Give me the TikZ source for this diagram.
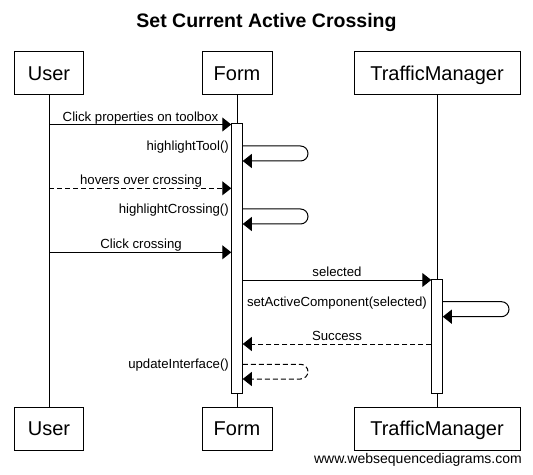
\documentclass[tikz,border=0pt]{standalone}
\usepackage{fontspec}
\setmainfont{Liberation Sans}
\usetikzlibrary{arrows.meta}
\begin{document}
\begin{tikzpicture}[x=1bp,y=-1bp,
  pbox/.style={draw, line width=1bp, minimum height=43bp, inner sep=0pt,
    text height=14.4bp, text depth=0bp, font=\fontsize{20bp}{24bp}\selectfont},
  actbar/.style={draw, fill=white, line width=1bp, minimum width=10.5bp, inner sep=0pt},
  life/.style={line width=1bp},
  msg/.style={line width=1bp, -{Triangle[length=9bp,width=14bp]}},
  ret/.style={msg, dash pattern=on 5bp off 3bp},
  selfmsg/.style={msg, rounded corners=7.5bp},
  lbl/.style={inner sep=0pt, font=\fontsize{13.2bp}{15bp}\selectfont},
]
\useasboundingbox (0,0) rectangle (533,475);

\node[anchor=base, inner sep=0pt, font=\fontsize{19.5bp}{23bp}\selectfont\bfseries] (title) at (266.5,27.7) {Set Current Active Crossing};

% participants
\node[pbox, minimum width=68bp] (usertop) at (49,73.5) {User};
\node[pbox, minimum width=70bp] (formtop) at (237,73.5) {Form};
\node[pbox, minimum width=166bp] (tmtop) at (437,73.5) {TrafficManager};
\node[pbox, minimum width=68bp] (userbot) at (49,428.5) {User};
\node[pbox, minimum width=70bp] (formbot) at (237,428.5) {Form};
\node[pbox, minimum width=166bp] (tmbot) at (437,428.5) {TrafficManager};

\draw[life] (usertop.south) -- (userbot.north);
\draw[life] (formtop.south) -- (formbot.north);
\draw[life] (tmtop.south) -- (tmbot.north);

% activation bars
\node[actbar, minimum height=269bp] (formact) at (237,258.5) {};
\node[actbar, minimum height=113bp] (tmact) at (437,336.5) {};

% message rows
\coordinate (m1) at (0,124.5);
\coordinate (m2a) at (308,146);
\coordinate (m2b) at (308,161);
\coordinate (m3) at (0,188.3);
\coordinate (m4a) at (308,209);
\coordinate (m4b) at (308,224);
\coordinate (m5) at (0,252.3);
\coordinate (m6) at (0,280);
\coordinate (m7a) at (509,301.7);
\coordinate (m7b) at (509,316.7);
\coordinate (m8) at (0,344);
\coordinate (m9a) at (308,364.3);
\coordinate (m9b) at (308,379);

\draw[msg] (usertop.south |- m1) -- (formact.west |- m1);
\node[lbl, anchor=base] (l1) at (140.5,121.2) {Click properties on toolbox};

\draw[selfmsg] (formact.east |- m2a) -- (m2a) -- (m2b) -- (formact.east |- m2b);
\node[lbl, anchor=base east] (l2) at (229,150.5) {highlightTool()};

\draw[ret] (usertop.south |- m3) -- (formact.west |- m3);
\node[lbl, anchor=base] (l3) at (141,185) {hovers over crossing};

\draw[selfmsg] (formact.east |- m4a) -- (m4a) -- (m4b) -- (formact.east |- m4b);
\node[lbl, anchor=base east] (l4) at (229,213.5) {highlightCrossing()};

\draw[msg] (usertop.south |- m5) -- (formact.west |- m5);
\node[lbl, anchor=base] (l5) at (141,249) {Click crossing};

\draw[msg] (formact.east |- m6) -- (tmact.west |- m6);
\node[lbl, anchor=base] (l6) at (337,276.7) {selected};

\draw[selfmsg] (tmact.east |- m7a) -- (m7a) -- (m7b) -- (tmact.east |- m7b);
\node[lbl, anchor=base east] (l7) at (427,306) {setActiveComponent(selected)};

\draw[ret] (tmact.west |- m8) -- (formact.east |- m8);
\node[lbl, anchor=base] (l8) at (337,340.7) {Success};

\draw[ret, rounded corners=7.5bp] (formact.east |- m9a) -- (m9a) -- (m9b) -- (formact.east |- m9b);
\node[lbl, anchor=base east] (l9) at (229,368.8) {updateInterface()};

\node[lbl, anchor=base east, font=\fontsize{14bp}{16bp}\selectfont] (wm) at (522,463) {www.websequencediagrams.com};
\end{tikzpicture}
\end{document}
